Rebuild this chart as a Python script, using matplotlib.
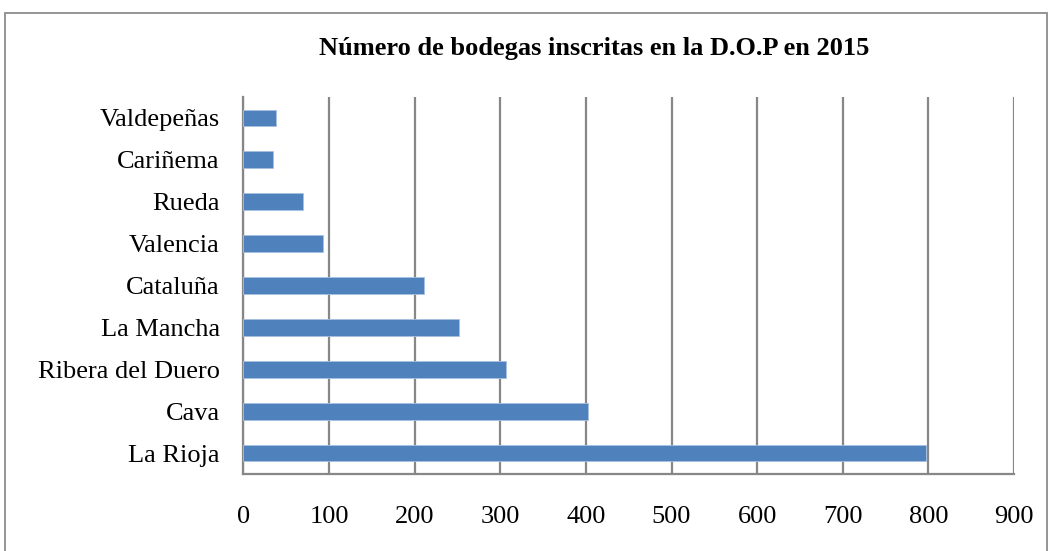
import matplotlib.pyplot as plt
from matplotlib.patches import Rectangle

# Bodegas inscritas por D.O.P (2015)
regiones = ["La Rioja", "Cava", "Ribera del Duero", "La Mancha", "Cataluña",
            "Valencia", "Rueda", "Cariñema", "Valdepeñas"]
bodegas = [797, 402, 307, 252, 211, 93, 69, 34, 38]
ticks_x = [0, 100, 200, 300, 400, 500, 600, 700, 800, 900]

plt.rcParams['font.family'] = ['Liberation Serif', 'DejaVu Serif']

fig = plt.figure(figsize=(10.49, 5.51), dpi=100)
ax = fig.add_axes([0.2321, 0.1397, 0.9666 - 0.2321, 0.824 - 0.1397])

# outer chart frame
fig.patches.append(Rectangle((5 / 1049, -0.05), 1042 / 1049, (551 - 13) / 551 + 0.05,
                             transform=fig.transFigure, fill=False,
                             edgecolor='#8c8c8c', linewidth=1.3))

ax.barh(regiones, bodegas, height=0.4, color='#4F81BD',
        edgecolor='#a9c1e0', linewidth=0.6, zorder=3)

ax.set_xlim(0, 900)
ax.set_ylim(-0.5, len(regiones) - 0.5)
ax.set_xticks(ticks_x)
ax.grid(axis='x', color='#878787', linewidth=1.6, zorder=1)
ax.grid(axis='y', visible=False)

for side in ['top', 'right']:
    ax.spines[side].set_visible(False)
ax.spines['left'].set_color('#878787')
ax.spines['left'].set_linewidth(1.6)
ax.spines['bottom'].set_color('#878787')
ax.spines['bottom'].set_linewidth(1.6)

ax.tick_params(axis='x', length=0, pad=23, labelsize=19)
ax.tick_params(axis='y', length=0, pad=17, labelsize=19)

fig.text(594 / 1049, 1 - 48 / 551, "Número de bodegas inscritas en la D.O.P en 2015",
         ha='center', va='center', fontsize=19, fontweight='bold')

fig.savefig('out.png', dpi=100)
